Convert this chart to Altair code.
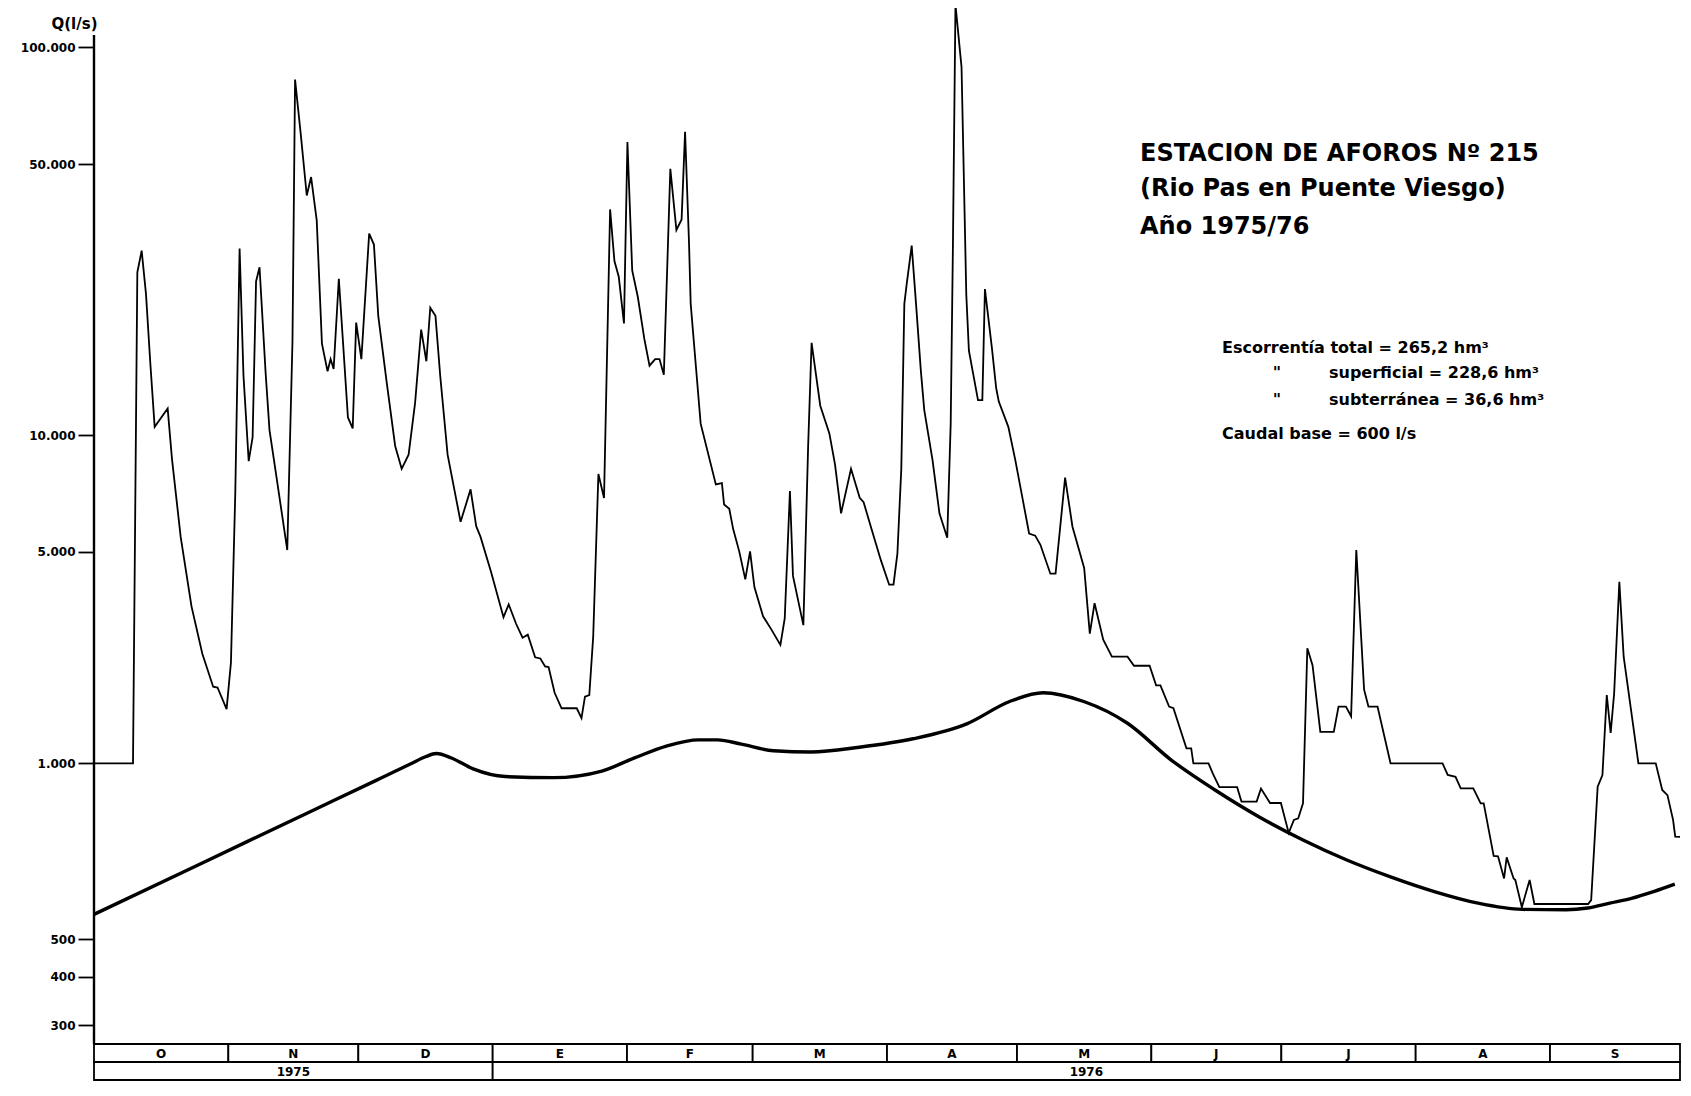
import altair as alt
import pandas as pd

# ---------------- daily discharge Q (l/s), water year 1975/76 (day 0 = 1 Oct 1975)
oct_days = [0, 9, 10, 11, 12, 13, 14, 17, 18, 20, 22.5, 25, 27.5, 28.5, 30.6]
oct_q = [1000, 1000, 26300, 29900, 23100, 15300, 10500, 11700, 8670, 5460, 3300, 2300, 1790, 1780, 1510]

nov_days = [31.6, 32.6, 33.6, 34.5, 35.7, 36.6, 37.4, 38.2, 39.6, 40.5, 41.5, 44.6, 45.8, 46.4, 47.7,
            49.1, 50.1, 51.4, 52.6, 53.9, 54.6, 55.3, 56.5, 57.4, 58.6, 59.7, 60.5]
nov_q = [2150, 7060, 30300, 14200, 8560, 9860, 24900, 27100, 14500, 10300, 8670, 5050, 17400, 82600, 59900,
         41500, 46300, 35800, 17200, 14600, 15700, 14800, 25300, 17800, 11100, 10400, 19500]

dec_days = [61.7, 63.5, 64.6, 65.6, 67.5, 69.5, 71, 72.6, 74.1, 75.5, 76.7, 77.6, 78.8, 79.9, 81.6,
            84.6, 86.9, 88.2, 89.2, 91.6]
dec_q = [15700, 33100, 31000, 20300, 13800, 9370, 8180, 8900, 12100, 18700, 15500, 21300, 20300, 14200, 8900,
         5970, 7240, 5820, 5460, 4300]

jan_days = [94.5, 95.7, 97.4, 98.9, 100.1, 101.8, 103, 104.1, 104.9, 106.3, 107.9, 111.4, 112.5, 113.3,
            114.3, 115.2, 116.4, 117.7, 119.1, 120.1, 121.1, 122.3]
jan_q = [3040, 3350, 2890, 2600, 2660, 2240, 2220, 2090, 2080, 1710, 1520, 1520, 1410, 1660,
         1680, 2620, 7930, 6880, 38200, 28100, 25600, 19400]

feb_days = [123.1, 124.2, 125.5, 127, 128.2, 129.5, 130.5, 131.5, 133, 134.4, 135.6, 136.4, 137.3, 137.7,
            138.8, 140, 143.5, 144.9, 145.4, 146.6, 147.5, 148.9, 150.3, 151.4]
feb_q = [57000, 26600, 22700, 17700, 15100, 15700, 15700, 14300, 48600, 33800, 36000, 60600, 31600, 21800,
         15500, 10700, 7460, 7520, 6620, 6450, 5720, 5010, 4050, 5010]

mar_days = [152.4, 154.4, 156.3, 158.4, 159.4, 160.6, 161.3, 163.7, 164.8, 165.6, 167.6, 169.7, 171,
            172.4, 174.7, 176.7, 177.6, 179.6, 181.6]
mar_q = [3820, 3060, 2770, 2460, 3010, 7170, 4160, 2860, 9350, 17300, 11900, 10100, 8400,
         6280, 8180, 6890, 6710, 5640, 4680]

apr_days = [183.5, 184.5, 185.4, 186.3, 187, 187.5, 188.7, 189.7, 190.8, 191.6, 193.5, 195.1, 196.9,
            197.7, 198.2, 198.8, 200.2, 201.3, 201.9, 204, 205, 205.6, 207.2, 208.2, 208.8, 211, 212.6]
apr_q = [3890, 3890, 4930, 8180, 21800, 24300, 30800, 21800, 14700, 11600, 8630, 6280, 5430,
         10700, 30000, 129000, 89000, 23000, 16500, 12300, 12300, 23800, 16800, 13200, 12200, 10500, 8630]

may_days = [215.8, 217.2, 218.4, 220.7, 221.9, 224.1, 225.8, 228.5, 229.8, 230.9, 232.9, 234.9, 238.5,
            240, 243.6]
may_q = [5570, 5500, 5210, 4230, 4230, 7760, 5800, 4420, 2680, 3380, 2560, 2250, 2250,
         2100, 2100]

jun_days = [245.1, 246.1, 248.1, 249.1, 252.1, 253.2, 253.7, 257.2, 258.2, 259.7, 263.8, 264.8, 268.3,
            269.3, 271.4, 273.9]
jun_q = [1810, 1810, 1540, 1520, 1120, 1120, 1000, 1000, 960, 910, 910, 860, 860,
         905, 855, 855]

jul_days = [275.7, 276.9, 277.9, 279, 280, 281.2, 283, 286.1, 287.2, 288.9, 290.1, 291.3, 293.1, 294.1,
            296.2, 299.2]
jul_q = [760, 800, 805, 854, 2400, 2110, 1270, 1270, 1540, 1540, 1430, 5050, 1750, 1540,
         1540, 1000]

aug_days = [311.2, 312.4, 314.2, 315.4, 318.3, 320, 320.7, 323, 324, 325.4, 326, 327.6, 328, 329.5,
            331.3, 332.4]
aug_q = [1000, 955, 948, 906, 906, 854, 854, 694, 693, 635, 690, 635, 631, 567,
         631, 574]

sep_days = [344.8, 345.5, 347, 348.1, 349.1, 350, 350.8, 352, 353, 356.4, 360.4, 361.9, 363.1, 364.4,
            364.9, 366]
sep_q = [574, 583, 912, 955, 1680, 1260, 1700, 3980, 2250, 1000, 1000, 900, 882, 800,
         749, 748]

# ---------------- base flow curve (l/s)
base_days = [0, 25, 50, 65, 73, 76.5, 79, 82.5, 87.5, 94.9, 106, 117.2, 124.6, 132.1, 139.5, 143.9,
             149.4, 156.8, 165.5, 176.6, 189, 201.4, 211.3, 219, 228.4, 238.5, 248.6, 258.7, 268.8,
             279, 289.1, 299.2, 309.3, 319.4, 329.6, 339.7, 344.7, 349.8, 354.8, 359.9, 364.8]
base_q = [551, 675, 827, 934, 997, 1051, 1077, 1041, 978, 949, 945, 970, 1040, 1140, 1195, 1195,
          1157, 1100, 1090, 1130, 1205, 1350, 1600, 1710, 1600, 1356, 1025, 900, 810,
          739, 683, 639, 603, 576, 562, 561, 565, 576, 587, 603, 621]

# ---------------- calendar strip
month_names = ["O", "N", "D", "E", "F", "M", "A", "M", "J", "J", "A", "S"]
month_lengths = [31, 30, 31, 31, 29, 31, 30, 31, 30, 31, 31, 30]
year_names = ["1975", "1976"]
year_month_counts = [3, 9]

# ---------------- y axis ticks
y_ticks = [300, 400, 500, 1000, 5000, 10000, 50000, 100000]
axis_top_q = 107700

# ---------------- build tables
flow_days = (oct_days + nov_days + dec_days + jan_days + feb_days + mar_days + apr_days +
             may_days + jun_days + jul_days + aug_days + sep_days)
flow_q = (oct_q + nov_q + dec_q + jan_q + feb_q + mar_q + apr_q +
          may_q + jun_q + jul_q + aug_q + sep_q)
assert len(flow_days) == len(flow_q)
assert len(base_days) == len(base_q)
flow_df = pd.DataFrame({"day": flow_days, "q": flow_q})
base_df = pd.DataFrame({"day": base_days, "q": base_q})

starts = [0]
for n in month_lengths:
    starts.append(starts[-1] + n)
cells = []
for i, name in enumerate(month_names):
    cells.append({"label": name, "start": starts[i], "end": starts[i + 1], "r0": 1, "r1": 2})
m = 0
for name, cnt in zip(year_names, year_month_counts):
    cells.append({"label": name, "start": starts[m], "end": starts[m + cnt], "r0": 0, "r1": 1})
    m += cnt
table_df = pd.DataFrame(cells)
table_df["mid"] = (table_df["start"] + table_df["end"]) / 2
table_df["rm"] = (table_df["r0"] + table_df["r1"]) / 2

FONT = "DejaVu Sans"
W, H = 1586, 1073

x_scale = alt.Scale(domain=[0, 366], nice=False, zero=False)
y_scale = alt.Scale(type="log", domain=[268, 500, 1000, 5000, 126400],
                    range=[1036, 931, 755.3, 543.7, 0], nice=False)
y_axis = alt.Axis(values=y_ticks,
                  labelExpr="replace(format(datum.value, ','), ',', '.')",
                  domain=False, grid=False, ticks=True, tickSize=16, tickWidth=1.8,
                  tickColor="black", labelColor="black", labelFont=FONT, labelFontWeight="bold",
                  labelFontSize=12, labelPadding=3, labelOverlap=False, labelFlush=False,
                  title="Q(l/s)", titleAngle=0, titleX=-20, titleY=15, titleAlign="center",
                  titleBaseline="middle", titleFont=FONT, titleFontSize=15, titleFontWeight="bold",
                  titleColor="black")

axis_line = alt.Chart(pd.DataFrame({"day": [0], "q": [axis_top_q], "q2": [268]})).mark_rule(
    color="black", strokeWidth=2.4).encode(
    x=alt.X("day:Q", scale=x_scale, axis=None),
    y=alt.Y("q:Q", scale=y_scale, axis=y_axis),
    y2="q2:Q")

base_line = alt.Chart(base_df).mark_line(color="black", strokeWidth=3.4, interpolate="monotone").encode(
    x=alt.X("day:Q", scale=x_scale, axis=None),
    y=alt.Y("q:Q", scale=y_scale, axis=y_axis))

flow_line = alt.Chart(flow_df).mark_line(color="black", strokeWidth=1.8).encode(
    x=alt.X("day:Q", scale=x_scale, axis=None),
    y=alt.Y("q:Q", scale=y_scale, axis=y_axis))

main = alt.layer(axis_line, base_line, flow_line)

t_scale = alt.Scale(domain=[0, 2], range=[H - 1, 1036], nice=False, zero=False)
table_rect = alt.Chart(table_df).mark_rect(fill="white", stroke="black", strokeWidth=1.8).encode(
    x=alt.X("start:Q", scale=x_scale, axis=None), x2="end:Q",
    y=alt.Y("r0:Q", scale=t_scale, axis=None), y2="r1:Q")
table_text = alt.Chart(table_df).mark_text(font=FONT, fontSize=12, fontWeight="bold", color="black",
                                           baseline="middle", align="center", dy=1).encode(
    x=alt.X("mid:Q", scale=x_scale, axis=None),
    y=alt.Y("rm:Q", scale=t_scale, axis=None),
    text="label:N")
table = alt.layer(table_rect, table_text)


def label(txt, x, y, size, align="left", weight="bold"):
    return alt.Chart(pd.DataFrame({"t": [txt]})).mark_text(
        font=FONT, fontSize=size, fontWeight=weight, color="black", align=align,
        baseline="alphabetic").encode(x=alt.value(x), y=alt.value(y), text="t:N")


titles = [
    label("ESTACION DE AFOROS Nº 215", 1046, 153, 24),
    label("(Rio Pas en Puente Viesgo)", 1046, 188, 24),
    label("Año 1975/76", 1046, 225.5, 24),
    label("Escorrentía total = 265,2 hm³", 1128, 344.5, 16),
    label("\"", 1183, 370, 16, align="center"),
    label("superficial = 228,6 hm³", 1235, 370, 16),
    label("\"", 1183, 397, 16, align="center"),
    label("subterránea = 36,6 hm³", 1235, 397, 16),
    label("Caudal base = 600 l/s", 1128, 431, 16),
]

chart = alt.layer(main, table, *titles).resolve_scale(y="independent").properties(
    width=W, height=H,
    autosize=alt.AutoSizeParams(type="none"),
    padding={"left": 86, "top": 0, "right": 3, "bottom": 0},
    background="white",
).configure_view(stroke=None)

chart.save("out.html", embed_options={"renderer": "svg", "actions": False})
